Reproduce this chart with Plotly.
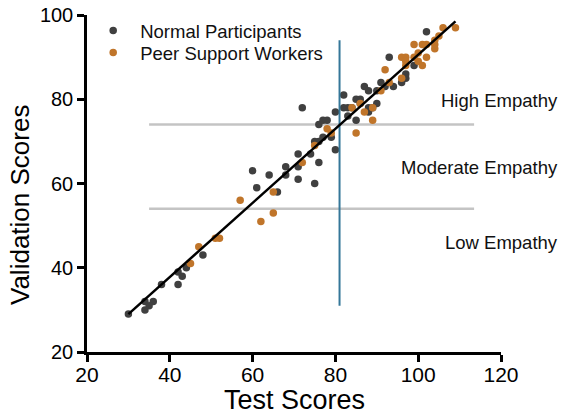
import plotly.graph_objects as go

# ---- data ----
normal_x = [30, 34, 36, 35, 34, 38, 42, 43, 42, 44, 48, 60, 64, 68, 68, 71, 71, 61, 66, 75,
            71, 74, 76, 75, 76, 77, 79, 80, 76, 77, 78, 80, 72, 82, 82, 83, 84, 83, 85, 86,
            85, 88, 88, 88, 90, 87, 91, 92, 94, 96, 97, 97, 93, 99, 102, 90, 89, 86]
normal_y = [29, 32, 32, 31, 30, 36, 39, 38, 36, 40, 43, 63, 62, 64, 62, 67, 61, 59, 58, 60,
            64, 67, 65, 70, 70, 71, 71, 68, 74, 75, 75, 77, 78, 81, 78, 78, 78, 76, 80, 79,
            75, 78, 77, 82, 82, 83, 84, 83, 83, 84, 85, 86, 90, 88, 96, 79, 78, 80]

peer_x = [45, 47, 51, 52, 57, 62, 65, 65, 72, 75, 78, 79, 84, 86, 87, 89, 89, 85, 91, 92,
          93, 96, 96, 97, 97, 97, 99, 99, 100, 100, 101, 101, 102, 102, 104, 104, 104, 105, 106, 109]
peer_y = [41, 45, 47, 47, 56, 51, 53, 58, 65, 69, 73, 72, 78, 79, 77, 78, 75, 72, 82, 87,
          84, 85, 90, 90, 89, 88, 90, 93, 91, 89, 93, 88, 90, 93, 94, 93, 92, 95, 97, 97]

fit_x = [30, 109]
fit_y = [29, 98.5]

cut_x = [81, 81]
cut_y = [31, 94]

band_x = [35, 113.5]
high_cut = [74, 74]
low_cut = [54, 54]

label_text = ["High Empathy", "Moderate Empathy", "Low Empathy"]
label_y = [79.6, 63.7, 46.1]

x_ticks = [20, 40, 60, 80, 100, 120]
y_ticks = [20, 40, 60, 80, 100]

FONT = "Liberation Sans, Arial, Helvetica, sans-serif"
GRAY = "#404040"
ORANGE = "#c0752a"

fig = go.Figure()

for yy in (high_cut, low_cut):
    fig.add_trace(go.Scatter(x=band_x, y=yy, mode="lines", showlegend=False,
                             line=dict(color="#c4c4c4", width=2.5), hoverinfo="skip"))

fig.add_trace(go.Scatter(x=normal_x, y=normal_y, mode="markers", name="Normal Participants",
                         legend="legend",
                         marker=dict(color=GRAY, size=7.5, line=dict(width=0))))
fig.add_trace(go.Scatter(x=peer_x, y=peer_y, mode="markers", name="Peer Support Workers",
                         legend="legend2",
                         marker=dict(color=ORANGE, size=7.5, line=dict(width=0))))

fig.add_trace(go.Scatter(x=cut_x, y=cut_y, mode="lines", showlegend=False,
                         line=dict(color="#357799", width=2), hoverinfo="skip"))
fig.add_trace(go.Scatter(x=fit_x, y=fit_y, mode="lines", showlegend=False,
                         line=dict(color="black", width=2.5), hoverinfo="skip"))

for t, yv in zip(label_text, label_y):
    fig.add_annotation(x=1.142, xref="paper", y=yv, yref="y", text=t, showarrow=False,
                       xanchor="right", yanchor="middle",
                       font=dict(family=FONT, size=18.5, color="#111111"))

# axis titles
fig.add_annotation(x=0.5, xref="paper", y=-0.142, yref="paper", text="Test Scores",
                   showarrow=False, xanchor="center", yanchor="middle",
                   font=dict(family=FONT, size=27, color="black"))
fig.add_annotation(x=-0.162, xref="paper", y=0.436, yref="paper", text="Validation Scores",
                   showarrow=False, xanchor="center", yanchor="middle", textangle=-90,
                   font=dict(family=FONT, size=26, color="black"))

legend_common = dict(x=-0.002, xanchor="left", yanchor="middle",
                     font=dict(family=FONT, size=18.5, color="#111111"),
                     bgcolor="rgba(0,0,0,0)", itemwidth=44, borderwidth=0)

fig.update_layout(
    width=564, height=417,
    margin=dict(l=87, r=63, t=15, b=65),
    paper_bgcolor="white", plot_bgcolor="white",
    font=dict(family=FONT, color="black"),
    legend=dict(y=0.9525, **legend_common),
    legend2=dict(y=0.887, **legend_common),
    xaxis=dict(range=[20, 120], tickvals=x_ticks, showgrid=False, zeroline=False,
               showline=True, linecolor="black", linewidth=2.5,
               ticks="outside", ticklen=7, tickwidth=2.5, tickcolor="black",
               tickfont=dict(family=FONT, size=21, color="black"),
               ticklabelstandoff=-5,
               automargin=False),
    yaxis=dict(range=[20, 100], tickvals=y_ticks, showgrid=False, zeroline=False,
               showline=True, linecolor="black", linewidth=2.5,
               ticks="outside", ticklen=7, tickwidth=2.5, tickcolor="black",
               tickfont=dict(family=FONT, size=20, color="black"),
               automargin=False),
)

fig.write_html("out.html", config={"displayModeBar": False},
               post_script="document.body.style.margin='0';")
